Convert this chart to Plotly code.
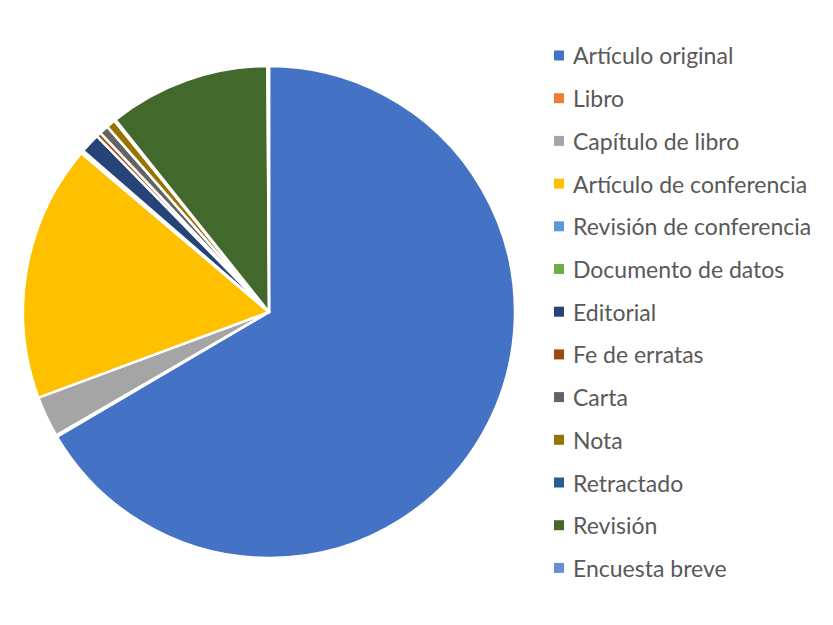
import plotly.graph_objects as go

W, H = 833, 625
OFF = 8  # page body margin offset

categories = ["Artículo original", "Libro", "Capítulo de libro", "Artículo de conferencia",
              "Revisión de conferencia", "Documento de datos", "Editorial", "Fe de erratas",
              "Carta", "Nota", "Retractado", "Revisión", "Encuesta breve"]
values = [664, 1, 27, 168, 1, 1, 13, 3, 6, 6, 1, 106, 1]
colors = ["#4472C4", "#ED7D31", "#A5A5A5", "#FFC000", "#5B9BD5", "#70AD47", "#264478",
          "#9E480E", "#636363", "#997300", "#255E91", "#43682B", "#698ED0"]

FONT = "Lato"


def px(x):
    return (x - OFF) / W


def py(y):
    return 1 - (y - OFF) / H


fig = go.Figure()
fig.add_trace(go.Pie(
    labels=categories, values=values, sort=False, direction="clockwise", rotation=0,
    marker=dict(colors=colors, line=dict(color="white", width=2.5)),
    textinfo="none", hoverinfo="label+value", showlegend=False,
    domain=dict(x=[px(22), px(516)], y=[py(558), py(66)]),
))

shapes, annotations = [], []
y0, dy = 55.5, 42.7
for i, (cat, col) in enumerate(zip(categories, colors)):
    yc = y0 + i * dy
    shapes.append(dict(type="rect", xref="paper", yref="paper",
                       x0=px(554), x1=px(564), y0=py(yc + 5), y1=py(yc - 5),
                       fillcolor=col, line=dict(width=0)))
    annotations.append(dict(text=cat, xref="paper", yref="paper", x=px(571), y=py(yc),
                            xanchor="left", yanchor="middle", showarrow=False,
                            font=dict(family=FONT, size=23, color="#595959")))

fig.update_layout(width=W, height=H, margin=dict(l=0, r=0, t=0, b=0),
                  paper_bgcolor="white", plot_bgcolor="white",
                  shapes=shapes, annotations=annotations, showlegend=False)
fig.write_html("out.html")
